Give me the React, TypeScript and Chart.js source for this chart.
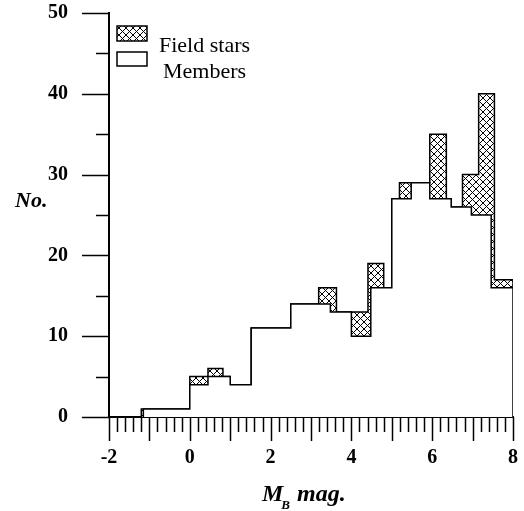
import React, { useEffect, useRef } from "react";
import { Chart, registerables } from "chart.js";

Chart.register(...registerables);

// Cluster members: bin edges in M_B and number of stars per bin
const memberEdges = [-1.15, 0, 0.45, 1.0, 1.52, 2.5, 3.48, 4.0, 4.48, 5.0, 5.48, 5.94, 6.47, 6.97, 7.46, 8.0];
const memberCounts = [1, 4, 5, 4, 11, 14, 13, 10, 16, 27, 29, 27, 26, 25, 16];

// Members plus field stars (the hatched excess above the members outline)
const totalEdges = [-1.2, -1.1, 0, 0.45, 0.82, 1.0, 1.52, 2.5, 3.19, 3.63, 4.0, 4.41, 4.8, 5.0, 5.19, 5.48, 5.94, 6.35, 6.47, 6.75, 7.15, 7.54, 8.0];
const totalCounts = [1, 1, 5, 6, 5, 4, 11, 14, 16, 13, 13, 19, 16, 27, 29, 29, 35, 27, 26, 30, 40, 17];

const xRange = [-2, 8];
const yRange = [0, 50];
const legendLabels = ["Field stars", "Members"];

const SERIF = "'Liberation Serif', 'Times New Roman', serif";

function stepPoints(edges: number[], counts: number[]) {
  const pts = [{ x: edges[0], y: 0 }];
  counts.forEach((c, i) => pts.push({ x: edges[i], y: c }));
  const last = edges[edges.length - 1];
  pts.push({ x: last, y: counts[counts.length - 1] });
  pts.push({ x: last, y: 0 });
  return pts;
}

function makeHatch(): CanvasPattern | string {
  const size = 7;
  const c = document.createElement("canvas");
  c.width = size;
  c.height = size;
  const g = c.getContext("2d");
  if (!g) return "#888";
  g.fillStyle = "#fff";
  g.fillRect(0, 0, size, size);
  g.strokeStyle = "#000";
  g.lineWidth = 1;
  g.beginPath();
  g.moveTo(-1, -1);
  g.lineTo(size + 1, size + 1);
  g.moveTo(size + 1, -1);
  g.lineTo(-1, size + 1);
  g.stroke();
  const p = g.createPattern(c, "repeat");
  return p || "#888";
}

export default function App() {
  const ref = useRef<HTMLCanvasElement>(null);

  useEffect(() => {
    const canvas = ref.current;
    if (!canvas) return;
    const hatch = makeHatch();

    const decor = {
      id: "decor",
      afterDraw(chart: any) {
        const { ctx, chartArea, scales } = chart;
        const x = scales.x;
        const y = scales.y;
        ctx.save();
        ctx.strokeStyle = "#000";
        ctx.lineWidth = 1.5;
        // x tick marks: minor every 0.2, major every 1
        for (let i = xRange[0] * 5; i <= xRange[1] * 5; i++) {
          const px = Math.round(x.getPixelForValue(i / 5)) + 0.5;
          const len = i % 5 === 0 ? 24 : 15;
          ctx.beginPath();
          ctx.moveTo(px, chartArea.bottom);
          ctx.lineTo(px, chartArea.bottom + len);
          ctx.stroke();
        }
        // y tick marks: minor every 5, major every 10
        for (let v = yRange[0]; v <= yRange[1]; v += 5) {
          const py = Math.round(y.getPixelForValue(v)) + 0.5;
          const len = v % 10 === 0 ? 27 : 13;
          ctx.beginPath();
          ctx.moveTo(chartArea.left, py);
          ctx.lineTo(chartArea.left - len, py);
          ctx.stroke();
        }

        ctx.fillStyle = "#000";
        ctx.textBaseline = "alphabetic";
        // y axis title
        ctx.textAlign = "left";
        ctx.font = `italic bold 22px ${SERIF}`;
        ctx.fillText("No.", chartArea.left - 94, y.getPixelForValue(26));

        // x axis title with subscript
        const tx = chartArea.left + 153;
        const ty = chartArea.bottom + 84;
        ctx.font = `italic bold 24px ${SERIF}`;
        ctx.fillText("M", tx, ty);
        const mw = ctx.measureText("M").width;
        ctx.font = `italic bold 13px ${SERIF}`;
        ctx.fillText("B", tx + mw - 2, ty + 8);
        ctx.font = `italic bold 24px ${SERIF}`;
        ctx.fillText("mag.", tx + 35, ty);

        // legend
        const lx = chartArea.left + 8;
        const ly = chartArea.top + 13;
        ctx.lineWidth = 1.5;
        ctx.fillStyle = hatch as any;
        ctx.fillRect(lx, ly, 30, 15);
        ctx.strokeRect(lx, ly, 30, 15);
        ctx.fillStyle = "#fff";
        ctx.fillRect(lx, ly + 26, 30, 14);
        ctx.strokeRect(lx, ly + 26, 30, 14);
        ctx.fillStyle = "#000";
        ctx.font = `22px ${SERIF}`;
        ctx.fillText(legendLabels[0], lx + 42, ly + 26);
        ctx.fillText(legendLabels[1], lx + 46, ly + 52);
        ctx.restore();
      },
    };

    const tickFont = { family: SERIF, weight: "bold" as const, size: 20 };

    const chart = new Chart(canvas, {
      type: "line",
      data: {
        datasets: [
          {
            label: legendLabels[1],
            data: stepPoints(memberEdges, memberCounts),
            stepped: "before",
            borderColor: "#000",
            borderWidth: 1.5,
            backgroundColor: "#fff",
            fill: "origin",
            pointRadius: 0,
          },
          {
            label: legendLabels[0],
            data: stepPoints(totalEdges, totalCounts),
            stepped: "before",
            borderColor: "#000",
            borderWidth: 1.5,
            backgroundColor: hatch as any,
            fill: "origin",
            pointRadius: 0,
          },
        ],
      },
      options: {
        animation: false,
        responsive: false,
        devicePixelRatio: 1,
        layout: { padding: { top: 13, right: 11, left: 0, bottom: 0 } },
        plugins: { legend: { display: false }, tooltip: { enabled: false } },
        scales: {
          x: {
            type: "linear",
            min: xRange[0],
            max: xRange[1],
            grid: { display: true, drawOnChartArea: false, drawTicks: false },
            border: { display: true, color: "#000", width: 2 },
            ticks: {
              stepSize: 2,
              color: "#000",
              font: tickFont,
              padding: 29,
              maxRotation: 0,
              autoSkip: false,
            },
            afterFit: (s: any) => {
              s.height = 94;
              s.paddingLeft = 0;
              s.paddingRight = 0;
            },
          },
          y: {
            type: "linear",
            min: yRange[0],
            max: yRange[1],
            grid: { display: true, drawOnChartArea: false, drawTicks: false },
            border: { display: true, color: "#000", width: 2 },
            ticks: {
              stepSize: 10,
              color: "#000",
              font: tickFont,
              padding: 41,
            },
            afterFit: (s: any) => {
              s.width = 109;
              s.paddingTop = 0;
              s.paddingBottom = 0;
            },
          },
        },
      },
      plugins: [decor],
    });

    return () => chart.destroy();
  }, []);

  return (
    <div style={{ position: "fixed", left: 0, top: 0, width: 524, height: 511, background: "#fff" }}>
      <canvas ref={ref} width={524} height={511} style={{ display: "block" }} />
    </div>
  );
}
